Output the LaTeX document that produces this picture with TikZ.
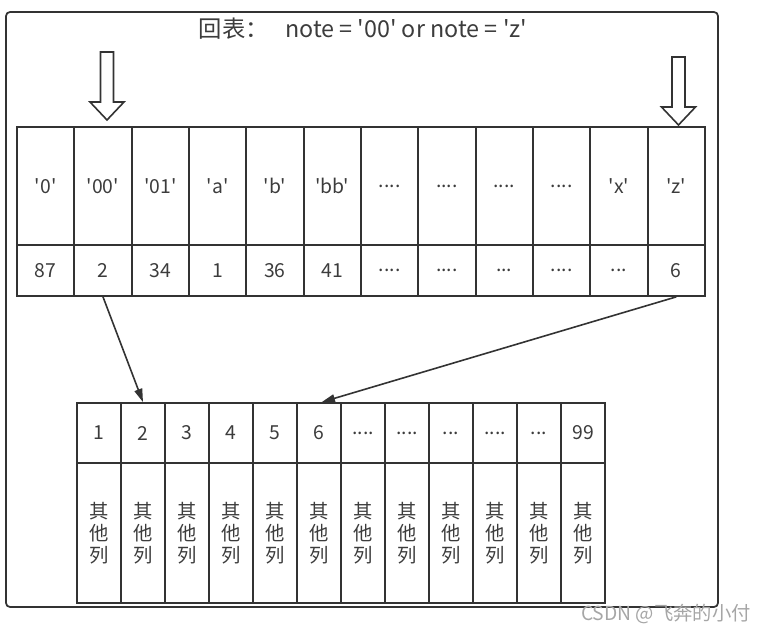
\documentclass[tikz,border=0pt]{standalone}
\usepackage{fontspec}
\newfontfamily\yahei{Noto Sans CJK SC}
\usetikzlibrary{arrows.meta}
\definecolor{inkline}{HTML}{333333}
\definecolor{inktext}{HTML}{3C3C3C}
\newcommand\fourdots{....}
\newcommand\threedots{...}
\tikzset{
  keycell/.style={draw=inkline, line width=1.3pt, minimum width=43pt, minimum height=88.5pt, inner sep=0pt, text=inktext},
  valcell/.style={draw=inkline, line width=1.3pt, minimum width=43pt, minimum height=38.25pt, inner sep=0pt, text=inktext},
  idcell/.style={draw=inkline, line width=1.3pt, minimum width=33pt, minimum height=45pt, inner sep=0pt, text=inktext},
  restcell/.style={draw=inkline, line width=1.3pt, minimum width=33pt, minimum height=105pt, inner sep=0pt, text=inktext, align=center},
  hollow/.style={draw=inkline, line width=1.2pt, fill=white},
  link/.style={draw=inkline, line width=1.2pt, -{Triangle[length=10pt, width=6pt]}}
}
\begin{document}
\begin{tikzpicture}[x=0.75pt, y=-0.75pt, font=\yahei\fontsize{14.5}{16.5}\selectfont]
  \useasboundingbox (0,0) rectangle (768,634);
  \draw[draw=inkline, line width=1.3pt, rounded corners=3pt] (6,12) rectangle (718,607);
  \node[text=inktext, font=\yahei\fontsize{17.5}{19}\selectfont] (title) at (363,29) {回表：\hspace{0.7em}note = '00' or note = 'z'};
  % clustered index on note
  \foreach \lbl [count=\i] in {'0','00','01','a','b','bb',\fourdots,\fourdots,\fourdots,\fourdots,'x','z'}
    \node[keycell] (k\i) at ({17+57.33*(\i-0.5)},186) {\lbl};
  \foreach \lbl [count=\i] in {87,2,34,1,36,41,\fourdots,\fourdots,\threedots,\fourdots,\threedots,6}
    \node[valcell] (v\i) at ({17+57.33*(\i-0.5)},270.5) {\lbl};
  % primary key rows
  \foreach \lbl [count=\i] in {1,2,3,4,5,6,\fourdots,\fourdots,\threedots,\fourdots,\threedots,99}
    \node[idcell] (i\i) at ({77+44*(\i-0.5)},433) {\lbl};
  \foreach \i in {1,...,12}
    \node[restcell] (r\i) at ({77+44*(\i-0.5)},533) {其\\他\\列};
  % hollow pointers
  \draw[hollow] (100.5,52) -- (113.5,52) -- (113.5,102) -- (124,102) -- (107,120) -- (90,102) -- (100.5,102) -- cycle;
  \draw[hollow] (672,57) -- (685,57) -- (685,107) -- (695.5,107) -- (678.5,125) -- (661.5,107) -- (672,107) -- cycle;
  \draw[link] (v2.south) -- (i2.north);
  \draw[link] (v12.south) -- ([xshift=2pt]i6.north);
  \node[text=black!35, font=\yahei\fontsize{14.5}{16}\selectfont] (mark) at (666,614) {CSDN @飞奔的小付};
\end{tikzpicture}
\end{document}
